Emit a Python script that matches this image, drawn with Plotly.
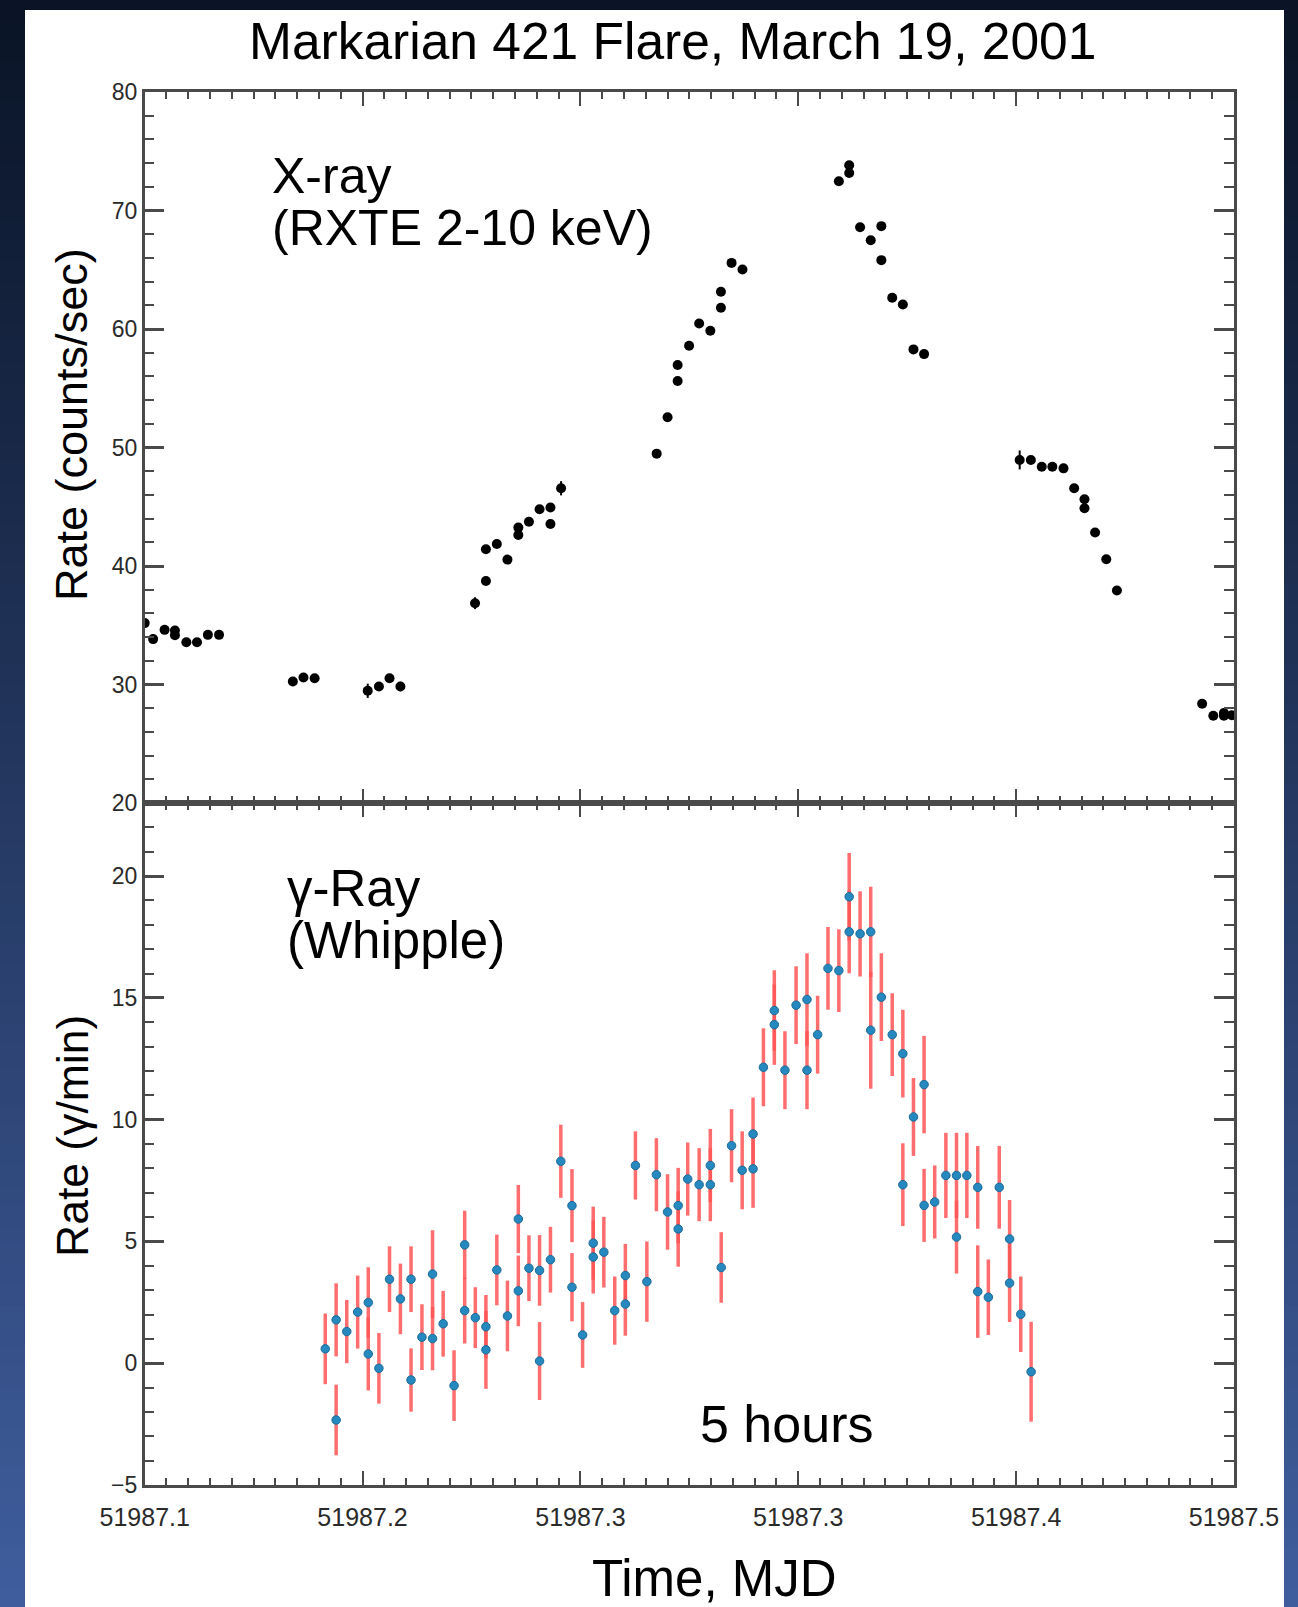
import numpy as np
import plotly.graph_objects as go

# ---------------- data ----------------
xray_mjd = [51987.1000, 51987.1031, 51987.1073, 51987.1111, 51987.1111, 51987.1153, 51987.1192,
            51987.1232, 51987.1273, 51987.1544, 51987.1583, 51987.1624, 51987.1819, 51987.1860,
            51987.1899, 51987.1939, 51987.2213, 51987.2253, 51987.2253, 51987.2293, 51987.2332,
            51987.2372, 51987.2372, 51987.2411, 51987.2450, 51987.2490, 51987.2490, 51987.2529,
            51987.2880, 51987.2920, 51987.2957, 51987.2957, 51987.2999, 51987.3036, 51987.3077,
            51987.3116, 51987.3116, 51987.3155, 51987.3195, 51987.3549, 51987.3587, 51987.3587,
            51987.3627, 51987.3666, 51987.3705, 51987.3705, 51987.3745, 51987.3784, 51987.3823,
            51987.3862, 51987.4213, 51987.4254, 51987.4294, 51987.4333, 51987.4374, 51987.4413,
            51987.4451, 51987.4451, 51987.4490, 51987.4531, 51987.4570, 51987.4883, 51987.4924,
            51987.4963, 51987.4963, 51987.4992]
xray_rate = [35.18, 33.83, 34.61, 34.55, 34.15, 33.57, 33.57, 34.19, 34.19, 30.25, 30.59, 30.53,
             29.47, 29.83, 30.53, 29.83, 36.86, 38.74, 41.42, 41.86, 40.54, 42.62, 43.24, 43.74,
             44.79, 44.93, 43.55, 46.56, 49.48, 52.55, 55.61, 56.96, 58.59, 60.47, 59.85, 61.79,
             63.14, 65.58, 65.02, 72.47, 73.17, 73.82, 68.59, 67.49, 68.68, 65.81, 62.63, 62.07,
             58.28, 57.88, 48.95, 48.95, 48.38, 48.38, 48.24, 46.56, 45.63, 44.87, 42.82, 40.57,
             37.93, 28.37, 27.36, 27.36, 27.60, 27.40]
xray_err = [0.3, 0.3, 0.3, 0.3, 0.3, 0.3, 0.3, 0.3, 0.3, 0.3, 0.3, 0.3,
            0.6, 0.3, 0.3, 0.4, 0.5, 0.3, 0.3, 0.3, 0.3, 0.3, 0.3, 0.3,
            0.3, 0.3, 0.3, 0.6, 0.3, 0.3, 0.3, 0.3, 0.3, 0.3, 0.3, 0.3,
            0.3, 0.3, 0.3, 0.3, 0.3, 0.3, 0.3, 0.3, 0.3, 0.3, 0.3, 0.3,
            0.3, 0.3, 0.8, 0.3, 0.3, 0.3, 0.3, 0.3, 0.3, 0.3, 0.3, 0.3,
            0.3, 0.3, 0.3, 0.3, 0.3, 0.3]

gamma_mjd = [51987.1663, 51987.1703, 51987.1703, 51987.1742, 51987.1782, 51987.1821, 51987.1821,
             51987.1860, 51987.1899, 51987.1939, 51987.1978, 51987.1978, 51987.2018, 51987.2057,
             51987.2057, 51987.2096, 51987.2136, 51987.2175, 51987.2175, 51987.2214, 51987.2253,
             51987.2253, 51987.2293, 51987.2332, 51987.2372, 51987.2372, 51987.2411, 51987.2450,
             51987.2450, 51987.2490, 51987.2528, 51987.2569, 51987.2569, 51987.2608, 51987.2647,
             51987.2647, 51987.2686, 51987.2726, 51987.2765, 51987.2765, 51987.2802, 51987.2844,
             51987.2879, 51987.2920, 51987.2959, 51987.2959, 51987.2994, 51987.3036, 51987.3077,
             51987.3077, 51987.3117, 51987.3155, 51987.3194, 51987.3234, 51987.3234, 51987.3272,
             51987.3312, 51987.3312, 51987.3351, 51987.3392, 51987.3432, 51987.3432, 51987.3471,
             51987.3509, 51987.3549, 51987.3587, 51987.3587, 51987.3627, 51987.3666, 51987.3666,
             51987.3705, 51987.3745, 51987.3784, 51987.3784, 51987.3823, 51987.3862, 51987.3862,
             51987.3901, 51987.3942, 51987.3981, 51987.3981, 51987.4019, 51987.4059, 51987.4059,
             51987.4098, 51987.4138, 51987.4176, 51987.4176, 51987.4217, 51987.4255]
gamma_rate = [0.59, 1.78, -2.33, 1.30, 2.10, 2.49, 0.38, -0.21, 3.45, 2.64, 3.45, -0.69, 1.07,
              3.66, 1.01, 1.62, -0.92, 4.86, 2.16, 1.87, 1.50, 0.55, 3.83, 1.94, 5.92, 2.97,
              3.90, 3.81, 0.09, 4.25, 8.29, 6.47, 3.12, 1.16, 4.93, 4.36, 4.56, 2.16, 3.60,
              2.43, 8.12, 3.35, 7.74, 6.21, 6.47, 5.51, 7.56, 7.33, 7.33, 8.12, 3.93, 8.93,
              7.92, 9.41, 7.98, 12.15, 14.48, 13.90, 12.03, 14.70, 14.93, 12.03, 13.49, 16.21,
              16.12, 19.15, 17.71, 17.63, 17.71, 13.67, 15.03, 13.49, 12.71, 7.33, 10.11, 11.44,
              6.48, 6.62, 7.71, 7.71, 5.18, 7.71, 7.22, 2.94, 2.71, 7.22, 5.10, 3.29, 2.01, -0.35]
gamma_err = [1.45, 1.5, 1.45, 1.3, 1.5, 1.45, 1.5, 1.45, 1.35, 1.45, 1.35, 1.3, 1.35,
             1.8, 1.3, 1.35, 1.45, 1.4, 1.35, 1.25, 1.3, 1.6, 1.45, 1.45, 1.4, 1.45,
             1.35, 1.45, 1.6, 1.35, 1.5, 1.5, 1.4, 1.35, 1.5, 1.5, 1.45, 1.4, 1.3,
             1.3, 1.4, 1.65, 1.5, 1.55, 1.55, 1.55, 1.5, 1.5, 1.5, 1.5, 1.45, 1.5,
             1.6, 1.5, 1.6, 1.6, 1.65, 1.65, 1.6, 1.6, 1.9, 1.6, 1.6, 1.7,
             1.7, 1.8, 1.7, 1.75, 1.85, 2.4, 1.8, 1.7, 1.8, 1.7, 1.6, 2.0,
             1.5, 1.5, 1.75, 1.75, 1.5, 1.75, 1.7, 1.9, 1.55, 1.7, 1.6, 1.6, 1.55, 2.05]

x_tickvals = [51987.10, 51987.18, 51987.26, 51987.34, 51987.42, 51987.50]
x_ticktext = ["51987.1", "51987.2", "51987.3", "51987.3", "51987.4", "51987.5"]
xray_ytick = [20, 30, 40, 50, 60, 70, 80]
gamma_ytick = [-5, 0, 5, 10, 15, 20]

# ---------------- layout helpers ----------------
W, H = 1298, 1607
FONT = "Liberation Sans, Arial, Helvetica, sans-serif"


def px(x):
    return x / W


def py(y):
    return 1 - y / H


LEFT, RIGHT = 144.7, 1234.0
TOP1, MID, BOT2 = 92.0, 803.0, 1485.0

fig = go.Figure()

fig.add_trace(go.Scatter(
    x=xray_mjd, y=xray_rate, mode="markers",
    marker=dict(color="black", size=10),
    error_y=dict(type="data", array=xray_err, color="black", thickness=2, width=0),
    xaxis="x", yaxis="y", showlegend=False))

fig.add_trace(go.Scatter(
    x=gamma_mjd, y=gamma_rate, mode="markers",
    marker=dict(color="#2589c0", size=8.5, line=dict(color="#1b6a98", width=1)),
    error_y=dict(type="data", array=gamma_err, color="rgba(255,85,85,0.85)", thickness=3.5, width=0),
    xaxis="x2", yaxis="y2", showlegend=False))

# gradient background bands
shapes = []
n = 80
c0 = np.array([10, 20, 38])
c1 = np.array([64, 94, 158])
for i in range(n):
    c = c0 + (c1 - c0) * (i + 0.5) / n
    shapes.append(dict(type="rect", xref="paper", yref="paper", x0=0, x1=1,
                       y0=1 - (i + 1) / n - 0.001, y1=1 - i / n,
                       fillcolor="rgb(%d,%d,%d)" % tuple(c), line=dict(width=0), layer="below"))
shapes.append(dict(type="rect", xref="paper", yref="paper", x0=px(25), x1=px(1284), y0=-0.01, y1=py(10),
                   fillcolor="white", line=dict(width=0), layer="below"))

axis_common = dict(showline=True, linecolor="#4a4a4a", linewidth=2.5, mirror="allticks",
                   ticks="inside", tickcolor="#4a4a4a", showgrid=False, zeroline=False,
                   automargin=False)

yfont = dict(family=FONT, size=23, color="#2a2a2a")
xfont = dict(family=FONT, size=25, color="#2a2a2a")

minor_x = dict(ticks="inside", ticklen=7, tickwidth=1.5, tickcolor="#4a4a4a",
               tickvals=list(np.round(np.arange(51987.1, 51987.5001, 0.008), 4)), showgrid=False)

xr = [51987.1, 51987.5]
fig.update_layout(
    template="none",
    width=W, height=H, margin=dict(l=0, r=0, t=0, b=0, pad=0, autoexpand=False),
    paper_bgcolor="#0a1426", plot_bgcolor="white",
    shapes=shapes,
    xaxis=dict(domain=[px(LEFT), px(RIGHT)], anchor="y", range=xr, tickmode="array",
               tickvals=x_tickvals, ticktext=x_ticktext, showticklabels=False,
               ticklen=14, tickwidth=2, minor=minor_x, tickfont=xfont, **axis_common),
    yaxis=dict(domain=[py(MID), py(TOP1)], anchor="x", range=[20, 80], tickmode="array",
               tickvals=xray_ytick, ticklen=20, tickwidth=2.5, tickfont=yfont,
               minor=dict(ticks="inside", ticklen=10, tickwidth=2, tickcolor="#4a4a4a", dtick=2, tick0=20),
               **axis_common),
    xaxis2=dict(domain=[px(LEFT), px(RIGHT)], anchor="y2", range=xr, tickmode="array",
                tickvals=x_tickvals, ticktext=x_ticktext, ticklen=14, tickwidth=2,
                tickfont=xfont, ticklabelstandoff=8,
                minor=minor_x, **axis_common),
    yaxis2=dict(domain=[py(BOT2), py(MID)], anchor="x2", range=[-5, 23], tickmode="array",
                tickvals=gamma_ytick, ticklen=20, tickwidth=2.5, tickfont=yfont,
                minor=dict(ticks="inside", ticklen=10, tickwidth=2, tickcolor="#4a4a4a", dtick=1, tick0=-5),
                **axis_common),
)

ann = []


def text(x, y, s, size, xanchor="left", angle=0, color="black"):
    ann.append(dict(x=px(x), y=py(y), xref="paper", yref="paper", text=s, showarrow=False,
                    xanchor=xanchor, yanchor="middle", textangle=angle,
                    font=dict(family=FONT, size=size, color=color)))


text(672, 41, "Markarian 421 Flare, March 19, 2001", 51.5, "center")
text(270, 176, "X-ray", 50)
text(270, 228, "(RXTE 2-10 keV)", 50)
text(285, 888, "γ-Ray", 51)
text(285, 940, "(Whipple)", 51)
text(786, 1424, "5 hours", 52, "center")
text(714, 1578, "Time, MJD", 51, "center")
text(72, 425, "Rate (counts/sec)", 45, "center", -90)
text(72, 1136, "Rate (γ/min)", 44.5, "center", -90)
fig.update_layout(annotations=ann)

fig.write_html("out.html", config={"displayModeBar": False},
               post_script="document.body.style.margin='0px';document.body.style.padding='0px';"
                           "document.body.style.overflow='hidden';")
